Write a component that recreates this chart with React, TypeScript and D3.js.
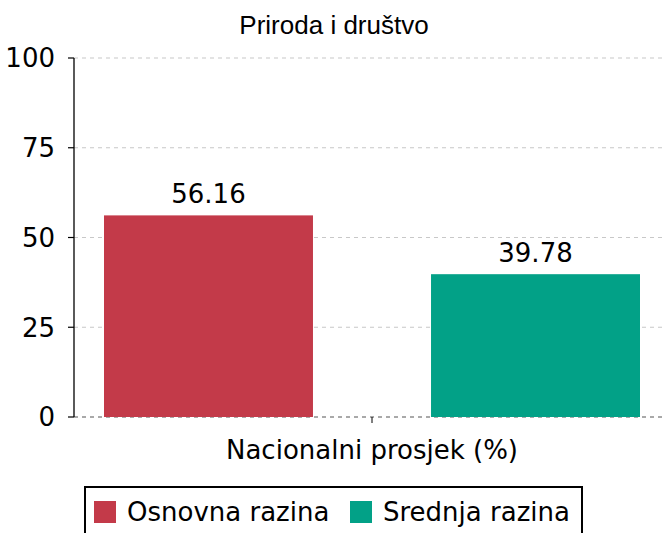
import React from "react";
import * as d3 from "d3";

const title = "Priroda i društvo";
const xLabel = "Nacionalni prosjek (%)";
const series = ["Osnovna razina", "Srednja razina"];
const values = [56.16, 39.78];
const colors = ["#c33a49", "#02a187"];
const yTicks = [0, 25, 50, 75, 100];

const W = 666;
const H = 533;

const App = () => {
  const left = 74;
  const right = 666;
  const top = 58;
  const bottom = 417;

  const y = d3.scaleLinear().domain([0, 100]).range([bottom, top]);
  const x = d3
    .scaleBand()
    .domain(series)
    .range([104, 640])
    .paddingInner(0.361)
    .paddingOuter(0);

  const font = "'DejaVu Sans', sans-serif";
  const fs = 26;

  return (
    <svg
      width={W}
      height={H}
      style={{ position: "absolute", left: 0, top: 0 }}
    >
      <rect width={W} height={H} fill="#fff" />
      <text
        x={334}
        y={34}
        textAnchor="middle"
        fontFamily="'Liberation Sans', Arial, sans-serif"
        fontSize={26}
        fill="#000"
      >
        {title}
      </text>

      {/* grid */}
      {yTicks.map((t) => (
        <line
          key={"g" + t}
          x1={left}
          x2={right}
          y1={y(t)}
          y2={y(t)}
          stroke={t === 0 ? "#555" : "#c8c8c8"}
          strokeWidth={1.2}
          strokeDasharray="4,4"
        />
      ))}

      {/* bars */}
      {series.map((s, i) => (
        <g key={s}>
          <rect
            x={x(s)}
            y={y(values[i])}
            width={x.bandwidth()}
            height={bottom - y(values[i])}
            fill={colors[i]}
          />
          <text
            x={(x(s) as number) + x.bandwidth() / 2}
            y={y(values[i]) - 12}
            textAnchor="middle"
            fontFamily={font}
            fontSize={fs}
            fill="#000"
          >
            {values[i].toFixed(2)}
          </text>
        </g>
      ))}

      {/* y axis */}
      <line x1={left} x2={left} y1={top} y2={bottom} stroke="#000" strokeWidth={1.3} />
      {yTicks.map((t) => (
        <g key={"t" + t}>
          <line x1={left - 6} x2={left} y1={y(t)} y2={y(t)} stroke="#000" strokeWidth={1.2} />
          <text
            x={left - 19}
            y={y(t)}
            dy="0.36em"
            textAnchor="end"
            fontFamily={font}
            fontSize={fs}
            fill="#000"
          >
            {t}
          </text>
        </g>
      ))}

      {/* x tick */}
      <line x1={372} x2={372} y1={bottom} y2={bottom + 6} stroke="#000" strokeWidth={1} />
      <text
        x={372}
        y={459}
        textAnchor="middle"
        fontFamily={font}
        fontSize={fs}
        fill="#000"
      >
        {xLabel}
      </text>

      {/* legend */}
      <rect x={85} y={487} width={497} height={60} fill="#fff" stroke="#000" strokeWidth={2} />
      {series.map((s, i) => {
        const lx = i === 0 ? 94 : 350;
        return (
          <g key={"l" + s}>
            <rect x={lx} y={501} width={22} height={22} fill={colors[i]} />
            <text
              x={lx + 33}
              y={521}
              fontFamily={font}
              fontSize={fs}
              fill="#000"
            >
              {s}
            </text>
          </g>
        );
      })}
    </svg>
  );
};

export default App;
